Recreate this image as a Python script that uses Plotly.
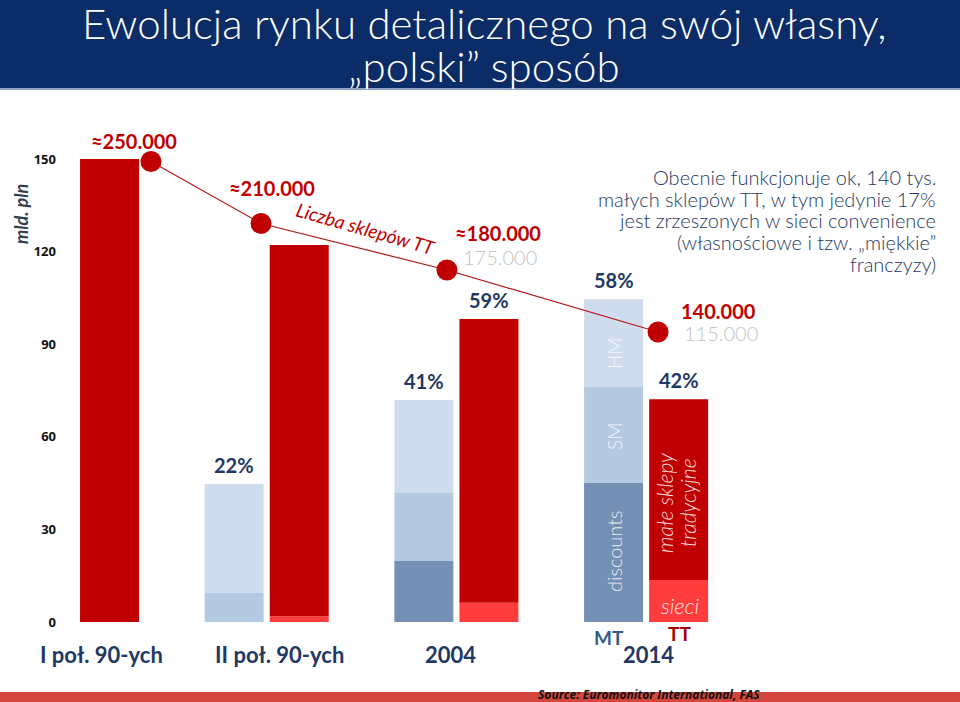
import plotly.graph_objects as go

# ---------------- data ----------------
categories = ["I poł. 90-ych", "II poł. 90-ych", "2004", "2014"]
mt_discounts = [0, 0, 19.8, 45.0]
mt_sm = [0, 9.4, 22.0, 31.1]
mt_hm = [0, 35.3, 30.1, 28.5]
tt_sieci = [0, 1.9, 6.2, 13.6]
tt_male = [150, 120.2, 92.0, 58.6]
mt_share_labels = ["", "22%", "41%", "58%"]
tt_share_labels = ["", "", "59%", "42%"]
shop_counts = [250000, 210000, 180000, 140000]
shop_count_labels = ["≈250.000", "≈210.000", "≈180.000", "140.000"]
shop_count_alt = ["", "", "175.000", "115.000"]
y_ticks = [0, 30, 60, 90, 120, 150]
info_lines = ["Obecnie funkcjonuje ok, 140 tys.",
              "małych sklepów TT, w tym jedynie 17%",
              "jest zrzeszonych w sieci convenience",
              "(własnościowe i tzw. „miękkie”",
              "franczyzy)"]
title_lines = ["Ewolucja rynku detalicznego na swój własny,", "„polski” sposób"]

# ---------------- style ----------------
RED = "#c00000"
RED_LIGHT = "#ff3d3d"
NAVY = "#1f3864"
C_DISC = "#7490b5"
C_SM = "#b5cae2"
C_HM = "#cfdcee"
FONT = "Lato"

L, R, T, B = 60, 0, 130, 80
W, H = 960, 702
PX_PER_CAT = 189.7
CAT0_PX = 77
PX_PER_UNIT = (622 - 159) / 150.0
x_range = [(L - CAT0_PX) / PX_PER_CAT, (W - R - CAT0_PX) / PX_PER_CAT]
y_range = [0, (H - B - T) / PX_PER_UNIT]
LINE_SCALE = 0.00155  # px per shop
y2_range = [180000 - (622 - 270) / LINE_SCALE, 180000 + (270 - T) / LINE_SCALE]
line_x_shift = [0.39, -0.03, -0.05, 0.063]

BAR_W = 0.311
MT_OFF = -0.327
TT_OFF = 0.016


def PX(px):
    return (px - L) / (W - L - R)


def PY(py):
    return (H - B - py) / (H - B - T)


idx = list(range(len(categories)))


def cumsum(*arrs):
    out = []
    acc = [0] * len(arrs[0])
    for a in arrs:
        out.append(list(acc))
        acc = [p + q for p, q in zip(acc, a)]
    return out, acc


(mt_b0, mt_b1, mt_b2), mt_total = cumsum(mt_discounts, mt_sm, mt_hm)
(tt_b0, tt_b1), tt_total = cumsum(tt_sieci, tt_male)

fig = go.Figure()


def add_bar(vals, base, color, off):
    fig.add_trace(go.Bar(x=idx, y=vals, base=base, width=BAR_W, offset=off,
                         marker=dict(color=color, line=dict(width=0)),
                         hoverinfo="skip", showlegend=False))


add_bar(mt_discounts, mt_b0, C_DISC, MT_OFF)
add_bar(mt_sm, mt_b1, C_SM, MT_OFF)
add_bar(mt_hm, mt_b2, C_HM, MT_OFF)
add_bar(tt_sieci, tt_b0, RED_LIGHT, TT_OFF)
add_bar(tt_male, tt_b1, RED, TT_OFF)

fig.add_trace(go.Scatter(
    x=[i + s for i, s in zip(idx, line_x_shift)], y=shop_counts, yaxis="y2",
    mode="lines+markers", line=dict(color="#b81515", width=1.2),
    marker=dict(size=21, color=RED, line=dict(width=0)),
    hoverinfo="skip", showlegend=False, cliponaxis=False))

ann = []


def txt(text, px, py, size, color, bold=False, italic=False, angle=0,
        weight=None, align="center", xanchor="center", yanchor="middle", family=FONT):
    f = dict(size=size, color=color, family=family)
    if weight is not None:
        f["weight"] = weight
    elif bold:
        f["weight"] = "bold"
    if italic:
        f["style"] = "italic"
    ann.append(dict(text=text, x=PX(px), y=PY(py), xref="paper", yref="paper",
                    showarrow=False, font=f, textangle=angle, align=align,
                    xanchor=xanchor, yanchor=yanchor))


# shop count labels
count_pos = [(134, 141), (272, 188), (498, 233), (718, 311)]
for lab, (px, py) in zip(shop_count_labels, count_pos):
    txt(lab, px, py, 20, RED, bold=True)
alt_pos = [None, None, (500, 257), (721, 333)]
for lab, p in zip(shop_count_alt, alt_pos):
    if lab:
        txt(lab, p[0], p[1], 20, "#c4c4c4", weight=300)

txt("Liczba sklepów TT", 366, 229, 19, RED, italic=True, angle=16)

# share labels above bars
for i, lab in enumerate(mt_share_labels):
    if lab:
        ann.append(dict(text=lab, x=i + MT_OFF + BAR_W / 2, y=mt_total[i],
                        xref="x", yref="y", showarrow=False, yanchor="bottom",
                        yshift=5, font=dict(size=20, color=NAVY, family=FONT, weight="bold")))
for i, lab in enumerate(tt_share_labels):
    if lab:
        ann.append(dict(text=lab, x=i + TT_OFF + BAR_W / 2, y=tt_total[i],
                        xref="x", yref="y", showarrow=False, yanchor="bottom",
                        yshift=5, font=dict(size=20, color=NAVY, family=FONT, weight="bold")))

# in-bar labels (2014)
WH = "rgba(255,255,255,0.85)"
txt("HM", 614, 353, 19, WH, angle=-90, weight=300)
txt("SM", 614, 437, 19, WH, angle=-90, weight=300)
txt("discounts", 614, 551, 20, WH, angle=-90, weight=300)
txt("małe sklepy", 665, 503, 21, WH, italic=True, angle=-90, weight=300)
txt("tradycyjne", 688, 503, 21, WH, italic=True, angle=-90, weight=300)
txt("sieci", 680, 605, 22, WH, italic=True, weight=300)

# category labels
cat_px = [101, 279, 450, 648]
for lab, px in zip(categories, cat_px):
    txt(lab, px, 654, 22, NAVY, bold=True)
txt("MT", 609, 637, 19, "#34598f", bold=True)
txt("TT", 679, 633, 19, "#a50000", bold=True)

# axis title
txt("mld. pln", 21, 214, 18, "#333f50", bold=True, italic=True, angle=-90)

# info block
info_y = [177, 198.5, 220, 241.5, 264]
for line, py in zip(info_lines, info_y):
    txt(line, 938, py, 20, NAVY, weight=300, xanchor="right")

# title
for line, py in zip(title_lines, [23, 66]):
    txt(line, 484, py, 42, "white", weight=300)

# source
txt("Source: Euromonitor International, FAS", 649, 694, 12, "#111111",
    bold=True, italic=True, family="Open Sans")

shapes = [
    dict(type="rect", xref="paper", yref="paper", x0=PX(0), x1=PX(W), y0=PY(88), y1=PY(0),
         fillcolor="#0b2c66", line=dict(width=0), layer="below"),
    dict(type="rect", xref="paper", yref="paper", x0=PX(0), x1=PX(W), y0=PY(90), y1=PY(88),
         fillcolor="#8aa3c8", line=dict(width=0), layer="below"),
    dict(type="rect", xref="paper", yref="paper", x0=PX(0), x1=PX(W), y0=PY(H), y1=PY(692),
         fillcolor="#d4453d", line=dict(width=0), layer="below"),
]

fig.update_layout(
    width=W, height=H,
    margin=dict(l=L, r=R, t=T, b=B, pad=0),
    paper_bgcolor="white", plot_bgcolor="white",
    barmode="overlay",
    showlegend=False,
    xaxis=dict(range=x_range, showgrid=False, zeroline=False, showticklabels=False,
               showline=False, fixedrange=True),
    yaxis=dict(range=y_range, tickvals=y_ticks, showgrid=False, zeroline=False,
               showline=False, ticks="", ticklabelstandoff=3, fixedrange=True,
               tickfont=dict(size=13, color="#111111", family="Open Sans", weight="bold")),
    yaxis2=dict(range=y2_range, overlaying="y", visible=False, fixedrange=True),
    annotations=ann,
    shapes=shapes,
)

fig.write_html("out.html", config={"displayModeBar": False},
               post_script="document.body.style.margin='0';document.body.style.overflow='hidden';")
